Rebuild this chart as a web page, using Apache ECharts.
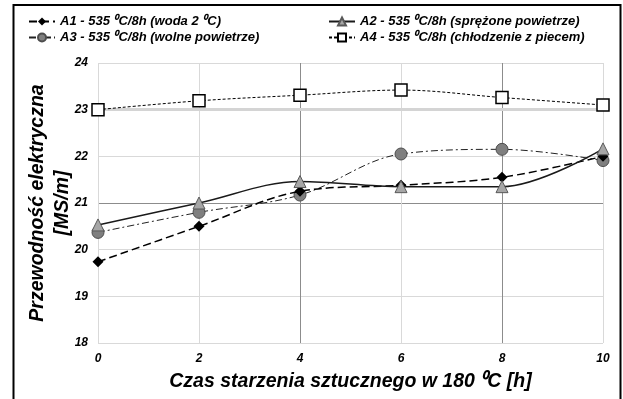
<!DOCTYPE html>
<html>
<head>
<meta charset="utf-8">
<script src="https://cdn.jsdelivr.net/npm/echarts@6/dist/echarts.min.js"></script>
<style>
html,body{margin:0;padding:0;background:#fff;}
#c{width:623px;height:399px;}
</style>
</head>
<body>
<div id="c"></div>
<script>
var hours = [0, 2, 4, 6, 8, 10];
var seriesNames = [
  'A1 - 535 ⁰C/8h (woda 2 ⁰C)',
  'A2 - 535 ⁰C/8h (sprężone powietrze)',
  'A3 - 535 ⁰C/8h (wolne powietrze)',
  'A4 - 535 ⁰C/8h (chłodzenie z piecem)'
];
var a1 = [19.74, 20.5, 21.25, 21.38, 21.55, 22.0];
var a2 = [20.53, 21.0, 21.46, 21.35, 21.35, 22.16];
var a3 = [20.37, 20.8, 21.17, 22.05, 22.15, 21.91];
var a4 = [23.0, 23.19, 23.31, 23.42, 23.26, 23.1];
var yTicks = [18, 19, 20, 21, 22, 23, 24];
var xTicks = [0, 2, 4, 6, 8, 10];

function pairs(v) { return hours.map(function (h, i) { return [h, v[i]]; }); }

var FONT = 'Liberation Sans, Arial, sans-serif';
var chart = echarts.init(document.getElementById('c'), null, {renderer: 'canvas'});

var legendText = {fontFamily: FONT, fontWeight: 'bold', fontStyle: 'italic', fontSize: 13, color: '#000'};

chart.setOption({
  animation: false,
  backgroundColor: '#fff',
  graphic: [{
    type: 'rect', silent: true, z: 100,
    shape: {x: 13.5, y: 5, width: 607, height: 400},
    style: {fill: 'none', stroke: '#000', lineWidth: 2}
  }],
  legend: [{
    orient: 'vertical', left: 23, top: 10, itemGap: 3, itemWidth: 26, itemHeight: 10,
    data: [seriesNames[0], seriesNames[2]], textStyle: legendText
  }, {
    orient: 'vertical', left: 323, top: 10, itemGap: 3, itemWidth: 26, itemHeight: 10,
    data: [seriesNames[1], seriesNames[3]], textStyle: legendText
  }],
  grid: {left: 98, right: 20, top: 63, bottom: 56, containLabel: false},
  xAxis: {
    type: 'value', min: 0, max: 10, interval: 2,
    name: 'Czas starzenia sztucznego w 180 ⁰C [h]',
    nameLocation: 'middle', nameGap: 29,
    nameTextStyle: {fontFamily: FONT, fontWeight: 'bold', fontStyle: 'italic', fontSize: 19.5, color: '#000'},
    axisLine: {show: false}, axisTick: {show: false},
    axisLabel: {fontFamily: FONT, fontWeight: 'bold', fontStyle: 'italic', fontSize: 12, color: '#000', margin: 10,
      formatter: function (v) { return xTicks.indexOf(v) >= 0 ? String(v) : ''; }},
    splitLine: {show: true, lineStyle: {width: 1, color: ['#d9d9d9', '#d9d9d9', '#8c8c8c', '#d9d9d9', '#8c8c8c', '#d9d9d9']}}
  },
  yAxis: {
    type: 'value', min: 18, max: 24, interval: 1,
    name: 'Przewodność elektryczna\n[MS/m]',
    nameLocation: 'middle', nameGap: 23, nameRotate: 90, nameMoveOverlap: false,
    nameTextStyle: {fontFamily: FONT, fontWeight: 'bold', fontStyle: 'italic', fontSize: 19.5, color: '#000', lineHeight: 25},
    axisLine: {show: false}, axisTick: {show: false},
    axisLabel: {fontFamily: FONT, fontWeight: 'bold', fontStyle: 'italic', fontSize: 12, color: '#000', margin: 10,
      formatter: function (v) { return yTicks.indexOf(v) >= 0 ? String(v) : ''; }},
    splitLine: {show: true, lineStyle: {width: 1, color: ['#d9d9d9', '#d9d9d9', '#d9d9d9', '#8c8c8c', '#d9d9d9', '#c8c8c8', '#d9d9d9']}}
  },
  series: [{
    name: seriesNames[0], type: 'line', smooth: 0.35, data: pairs(a1), z: 4,
    symbol: 'diamond', symbolSize: 11,
    itemStyle: {color: '#000', borderColor: '#000', borderWidth: 0},
    lineStyle: {color: '#000', width: 1.5, type: [8, 4]},
    markLine: {silent: true, symbol: 'none', label: {show: false}, z: 0,
      lineStyle: {color: '#d4d4d4', width: 3, type: 'solid'}, data: [{yAxis: 23}]}
  }, {
    name: seriesNames[1], type: 'line', smooth: 0.35, data: pairs(a2), z: 5,
    symbol: 'triangle', symbolSize: 12,
    itemStyle: {color: '#a6a6a6', borderColor: '#595959', borderWidth: 1},
    lineStyle: {color: '#1a1a1a', width: 1.5, type: 'solid'}
  }, {
    name: seriesNames[2], type: 'line', smooth: 0.35, data: pairs(a3), z: 3,
    symbol: 'circle', symbolSize: 12,
    itemStyle: {color: '#7f7f7f', borderColor: '#4d4d4d', borderWidth: 1},
    lineStyle: {color: '#222', width: 1, type: [7, 3, 2, 3]}
  }, {
    name: seriesNames[3], type: 'line', smooth: 0.35, data: pairs(a4), z: 3,
    symbol: 'rect', symbolSize: 12,
    itemStyle: {color: '#fff', borderColor: '#000', borderWidth: 1.5},
    lineStyle: {color: '#000', width: 1, type: [3, 2]}
  }]
});
</script>
</body>
</html>
